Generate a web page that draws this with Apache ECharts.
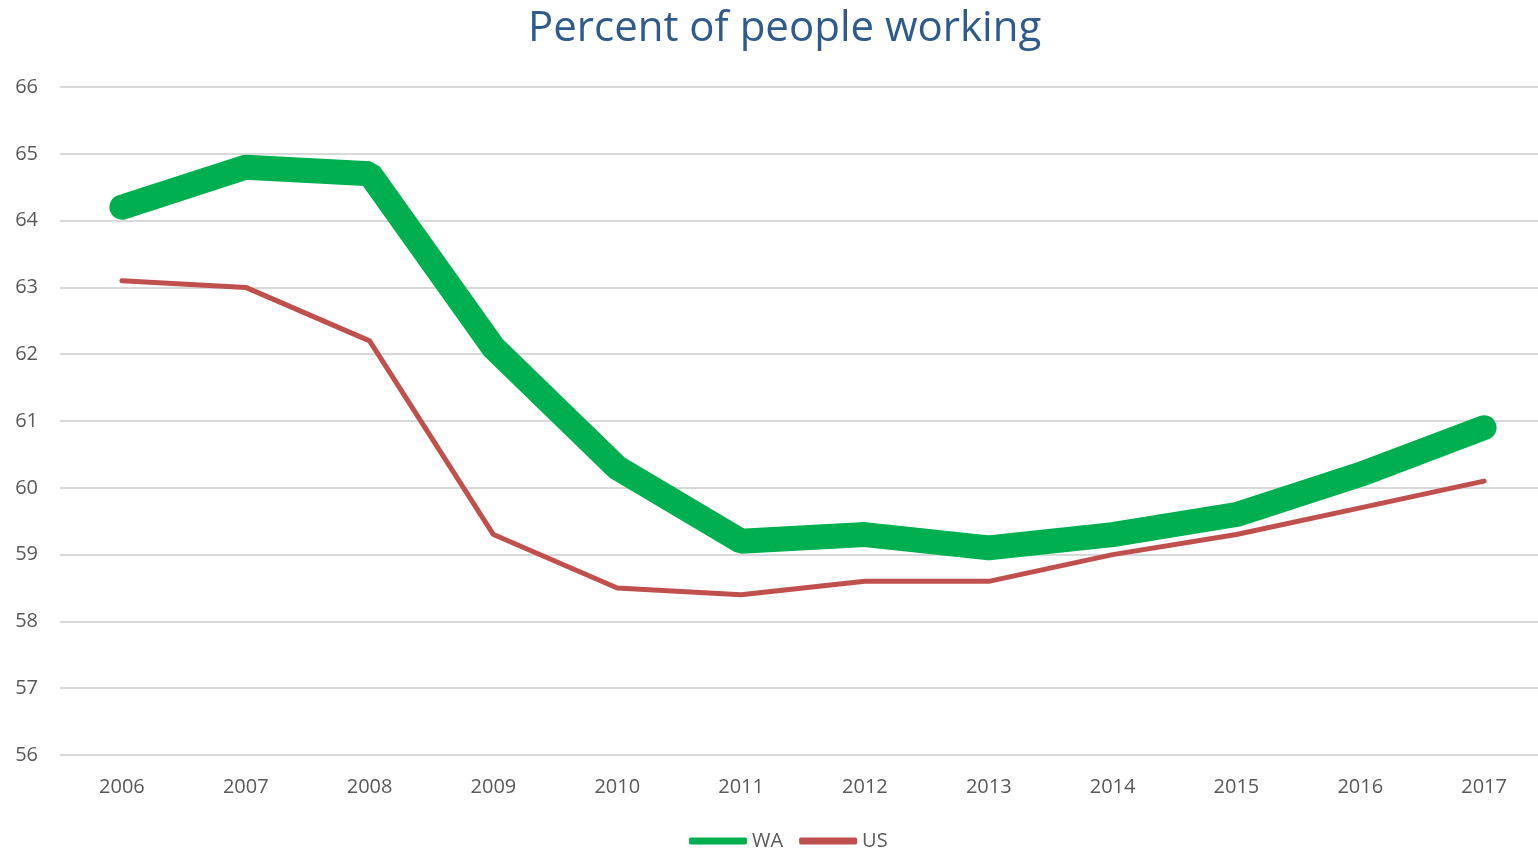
<!DOCTYPE html>
<html>
<head>
<meta charset="utf-8">
<script src="https://cdn.jsdelivr.net/npm/echarts@6/dist/echarts.min.js"></script>
<style>html,body{margin:0;padding:0;background:#fff}#c{width:1538px;height:852px}</style>
</head>
<body>
<div id="c"></div>
<script>
const years = ['2006','2007','2008','2009','2010','2011','2012','2013','2014','2015','2016','2017'];
const waValues = [64.2, 64.8, 64.7, 62.1, 60.3, 59.2, 59.3, 59.1, 59.3, 59.6, 60.2, 60.9];
const usValues = [63.1, 63.0, 62.2, 59.3, 58.5, 58.4, 58.6, 58.6, 59.0, 59.3, 59.7, 60.1];

const chart = echarts.init(document.getElementById('c'), null, {renderer: 'canvas'});
const font = '"Open Sans", "Noto Sans", sans-serif';
chart.setOption({
  animation: false,
  backgroundColor: '#ffffff',
  title: {
    text: 'Percent of people working',
    left: 523,
    top: 3,
    textStyle: {color: '#2F5A8E', fontSize: 42, fontWeight: 'normal', fontFamily: font}
  },
  legend: {
    bottom: -4,
    left: 684,
    itemGap: 16,
    itemWidth: 58,
    itemHeight: 7,
    textStyle: {color: '#595959', fontSize: 20, fontFamily: font},
    data: [
      {name: 'WA', icon: 'roundRect', itemStyle: {color: '#00B050'}},
      {name: 'US', icon: 'roundRect', itemStyle: {color: '#C0504D'}}
    ]
  },
  grid: {left: 60, width: 1486, top: 87, bottom: 97, containLabel: false, outerBoundsMode: 'none'},
  xAxis: {
    type: 'category',
    data: years,
    boundaryGap: true,
    axisLine: {show: false},
    axisTick: {show: false},
    axisLabel: {color: '#595959', fontSize: 20, fontFamily: font, margin: 22}
  },
  yAxis: {
    type: 'value',
    min: 56,
    max: 66,
    interval: 1,
    axisLine: {show: false},
    axisTick: {show: false},
    splitLine: {lineStyle: {color: '#D9D9D9', width: 2}},
    axisLabel: {color: '#595959', fontSize: 20, fontFamily: font, margin: 22}
  },
  series: [
    {
      name: 'WA', type: 'line', data: waValues, showSymbol: false, symbol: 'none',
      itemStyle: {color: '#00B050'},
      lineStyle: {color: '#00B050', width: 25, cap: 'round', join: 'bevel'},
      z: 3
    },
    {
      name: 'US', type: 'line', data: usValues, showSymbol: false, symbol: 'none',
      itemStyle: {color: '#C0504D'},
      lineStyle: {color: '#C0504D', width: 5, cap: 'round', join: 'bevel'},
      z: 2
    }
  ]
});
</script>
</body>
</html>
